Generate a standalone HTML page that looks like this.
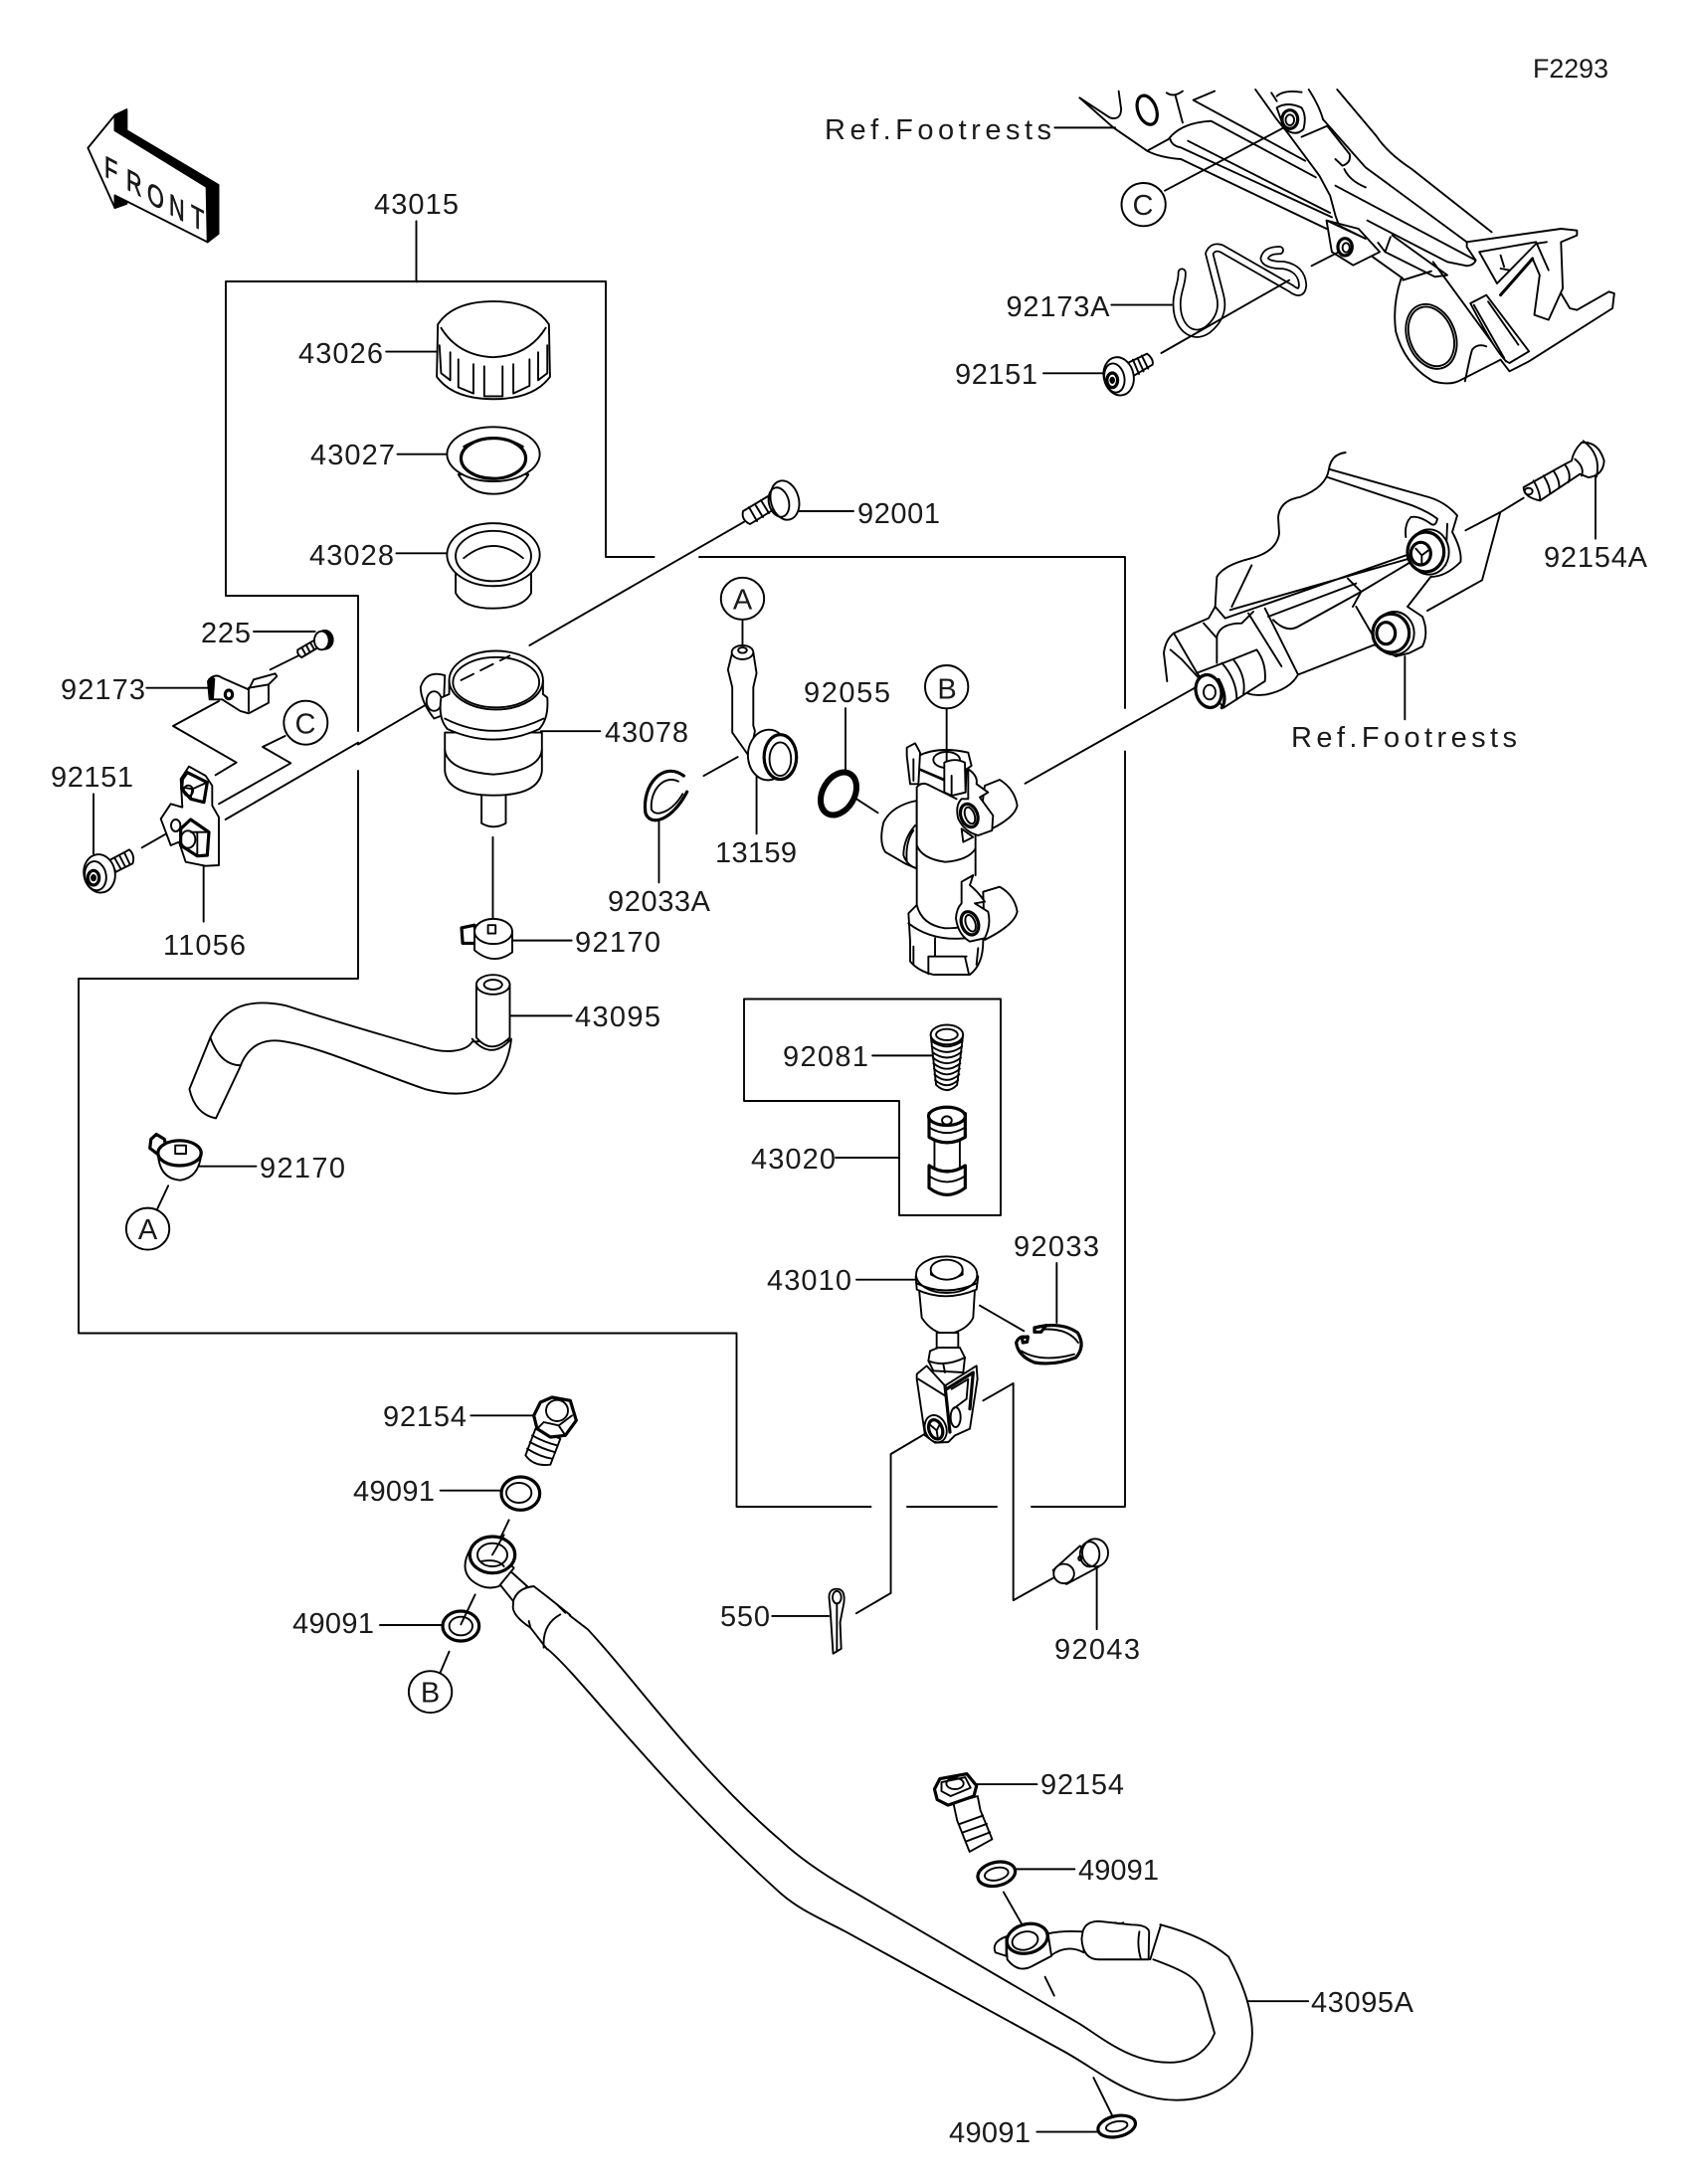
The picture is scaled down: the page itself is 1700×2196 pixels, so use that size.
<!DOCTYPE html>
<html><head><meta charset="utf-8"><title>Diagram</title>
<style>
html,body{margin:0;padding:0;background:#fff}
svg{display:block}
svg *{vector-effect:non-scaling-stroke}
.d{fill:none;stroke:#000;stroke-width:1.9;stroke-linejoin:round;stroke-linecap:round}
.d .w,.w{fill:#fff}
.d .k,.k{fill:#000}
.d .b{stroke-width:3.2}
.d .tk{stroke-width:6}
text{font-family:"Liberation Sans",sans-serif;font-size:29px;fill:#1a1a1a;stroke:none}
.wo{stroke:#000;stroke-width:9;fill:none}.wi{stroke:#fff;stroke-width:5.5;fill:none}
</style></head><body>
<svg width="1700" height="2196" viewBox="0 0 1700 2196" xmlns="http://www.w3.org/2000/svg">
<rect width="1700" height="2196" fill="#fff"/>
<g class="d">
<!-- frames -->
<polyline points="657.6,560 609,560 609,283 227,283 227,599 360,599 360,735"/>
<polyline points="360,775 360,984 79,984 79,1340.5 740.5,1340.5 740.5,1515 875.5,1515"/>
<line x1="912" y1="1515" x2="1002" y2="1515"/>
<polyline points="1037,1515 1131,1515 1131,755.5"/>
<polyline points="1131,712 1131,560 703,560"/>
<polyline points="748,1107 748,1004.5 1006,1004.5 1006,1222 904,1222 904,1107 748,1107"/>
<line x1="840" y1="1164" x2="904" y2="1164"/>
<line x1="802" y1="514" x2="858" y2="514"/>

<!-- Z1 -->
<g transform="scale(.5421,.7015)">
<path class="k" d="M213,165 L235,157 L235,187 L405,265 L405,335 L385,347 L383,268 L213,187Z"/>
<path class="k" d="M213,280 L235,288 L235,292 L213,298Z"/>
<path class="w" d="M163,212 L213,165 L213,187 L383,268 L385,347 L213,280 L213,298Z"/>
<line x1="772" y1="317" x2="772" y2="404"/>
<!-- 43026 -->
<line x1="716" y1="504" x2="810" y2="504"/>
<path class="w" d="M812,465 Q840,432 915,432 Q990,432 1018,465 L1020,540 Q990,572 915,572 Q840,572 810,540Z"/>
<path d="M818,470 Q850,510 915,512 Q980,510 1012,470"/>
<path d="M815,495 L818,535 L835,545 L835,505M850,515 L850,555 L878,564 L878,522M898,525 L898,568 L932,568 L932,525M952,522 L952,564 L982,553 L982,515M998,505 L998,545 L1015,535 L1015,495"/>
<!-- 43027 -->
<line x1="737" y1="651" x2="830" y2="651"/>
<path class="w" d="M850,680 Q870,708 915,708 Q960,708 980,680Z"/>
<ellipse class="w" cx="915" cy="651" rx="86" ry="39"/>
<ellipse cx="915" cy="657" rx="60" ry="29" class="b"/>
<path d="M860,640 Q915,615 970,640"/>
<!-- 43028 -->
<line x1="735" y1="793" x2="830" y2="793"/>
<path class="w" d="M845,815 L845,850 Q860,872 915,872 Q970,872 985,850 L985,815Z"/>
<ellipse class="w" cx="915" cy="795" rx="86" ry="45"/>
<ellipse cx="915" cy="797" rx="70" ry="36"/>
<path d="M860,800 Q915,765 970,800"/>
<!-- leaders reservoir -->
<line x1="982" y1="925" x2="1380" y2="748"/>
<line x1="664" y1="1067" x2="790" y2="1010"/>
<line x1="1003" y1="1048" x2="1113" y2="1048"/>
<line x1="914" y1="1200" x2="914" y2="1325"/>
<!-- reservoir -->
<path class="w" d="M825,968 Q790,960 780,985 Q780,1005 805,1030 L822,1025Z"/>
<ellipse cx="805" cy="1005" rx="14" ry="14"/>
<path class="w" d="M893,1130 L893,1180 Q915,1190 938,1180 L938,1130Z"/>
<path class="w" d="M825,1050 L825,1105 Q830,1140 915,1140 Q1000,1140 1005,1105 L1005,1050Z"/>
<path d="M825,1075 Q830,1105 915,1110 Q1000,1105 1005,1075"/>
<path class="w" d="M833,975 L833,995 L818,1000 Q812,1030 830,1045 Q915,1075 1000,1045 Q1018,1030 1015,1000 L1007,995 L1007,975Z"/>
<path d="M825,1030 Q915,1065 1008,1030" />
<ellipse class="w" cx="920" cy="975" rx="87" ry="42"/>
<ellipse cx="920" cy="978" rx="80" ry="36"/>
<line x1="855" y1="975" x2="945" y2="940" stroke-dasharray="14 8"/>
<!-- ring 92033A -->
<line x1="1222" y1="1175" x2="1222" y2="1265"/>
<path class="b" d="M1268,1112 C1230,1090 1190,1125 1197,1165 C1205,1185 1245,1178 1274,1135"/>
<path d="M1258,1120 C1232,1110 1205,1132 1208,1160 C1215,1172 1245,1165 1266,1138"/>
<!-- 13159 -->
<line x1="1377" y1="890" x2="1377" y2="925"/>
<line x1="1305" y1="1112" x2="1368" y2="1085"/>
<line x1="1403" y1="1110" x2="1403" y2="1195"/>
<path class="w" d="M1358,935 L1350,960 L1358,985 L1358,1050 L1390,1085 L1400,1048 L1397,1040 L1397,985 L1403,965 L1397,935Z"/>
<ellipse class="w" cx="1377" cy="935" rx="20" ry="10"/>
<ellipse cx="1377" cy="932" rx="8" ry="4"/>
<ellipse class="w" cx="1425" cy="1082" rx="38" ry="36" transform="rotate(-10 1425 1082)"/>
<ellipse class="w b" cx="1447" cy="1085" rx="30" ry="32"/>
<ellipse cx="1447" cy="1088" rx="20" ry="24"/>
<ellipse class="w" cx="1377" cy="858" rx="40" ry="30"/>
<!-- 92170 -->
<line x1="950" y1="1348" x2="1060" y2="1348"/>
<path class="w b" d="M856,1330 L880,1326 L885,1352 L858,1352Z"/>
<path class="w" d="M880,1330 L880,1362 Q915,1385 950,1365 L950,1335Z"/>
<ellipse class="w" cx="915" cy="1335" rx="35" ry="18"/>
<rect x="905" y="1326" width="14" height="12"/>
<line x1="946" y1="1456" x2="1060" y2="1456"/>
</g>

<!-- hose, shown-scale -->
<g transform="scale(1.4003)">
<path class="w" d="M339,748 C335,755 320,757 305,752 C270,742 230,730 205,722 C175,716 160,725 151,745 L136,782 Q140,800 155,803 L172,767 C178,750 190,745 205,748 C230,752 270,770 305,782 C335,790 362,785 367,747Z"/>
<path d="M151,745 Q158,765 173,765"/>
<path class="w" d="M342,707 L342,745 Q353,758 366,745 L366,707Z"/>
<path d="M339,746 Q353,762 367,746"/>
<ellipse class="w" cx="354" cy="707" rx="12" ry="7"/>
<ellipse cx="354" cy="707" rx="6.5" ry="3.5"/>
<!-- long hose -->
<path d="M409,1160 L422,1170 C455,1205 500,1270 561,1322 C575,1335 590,1345 607,1355 L773,1452 C790,1462 810,1481 840,1481 C858,1481 868,1470 872,1460 L864,1432 C860,1420 850,1415 828,1407"/>
<path d="M393,1184 C420,1207 470,1278 561,1360 C575,1372 590,1378 607,1387 L762,1472 C790,1487 810,1508 845,1508 C875,1508 899,1490 899,1460 C899,1440 890,1420 882,1405 C870,1395 855,1388 833,1382"/>
</g>

<!-- Z2 leftovers -->
<g transform="translate(850,0) scale(.5421,.7015)">
<line x1="388" y1="183" x2="500" y2="183"/>
<line x1="493" y1="437" x2="605" y2="437"/>
<line x1="367" y1="535" x2="478" y2="535"/>
<line x1="333" y1="1123" x2="650" y2="985"/>
<line x1="0" y1="1015" x2="0" y2="1105"/>
<line x1="20" y1="1145" x2="60" y2="1165"/>
<!-- 92081 -->
<line x1="50" y1="1513" x2="160" y2="1513"/>
<path class="w" d="M158,1483 L168,1555 Q188,1570 207,1555 L218,1483Z"/>
<ellipse class="w" cx="188" cy="1483" rx="30" ry="14"/>
<path d="M159,1492 Q188,1508 217,1492 M160,1500 Q188,1516 216,1500 M161,1508 Q188,1524 215,1508 M162,1516 Q188,1532 214,1516 M163,1524 Q188,1540 213,1524 M164,1532 Q188,1548 212,1532 M165,1540 Q188,1556 211,1540 M166,1548 Q188,1563 209,1548"/>
<ellipse cx="188" cy="1483" rx="20" ry="8"/>
</g>
<ellipse class="tk" cx="843" cy="798" rx="16" ry="23" transform="rotate(30 843 798)"/>

<!-- Upper footrest, crop 1 -->
<g transform="translate(1080,90) scale(.35714,.33333)">
<path d="M15,25 L100,85 Q130,95 132,60 L125,5 M15,25 L110,115 L205,185 Q240,205 300,210 L710,420"/>
<ellipse class="b" cx="205" cy="62" rx="26" ry="45" transform="rotate(-18 205 62)"/>
<path d="M205,185 L265,150 Q300,100 385,95 L680,265"/>
<path d="M270,150 Q275,170 300,175 L725,385 M320,155 L720,372"/>
<path d="M305,100 L285,20 M260,10 Q280,25 305,5 M335,32 L395,5 M335,32 L650,215"/>
<line x1="255" y1="305" x2="590" y2="115"/>
<ellipse class="w" cx="195" cy="347" rx="62" ry="65"/>
<path d="M510,0 L570,90 L600,130 L690,260 L720,320 L735,380 L745,410"/>
<path d="M640,143 L712,110 M700,90 Q690,50 660,0 M555,10 L570,35 M570,20 Q590,0 640,8"/>
<path d="M712,110 L775,195 Q780,220 755,230 L735,210"/>
<path d="M735,290 L1130,515 Q1125,530 1105,532 L1050,520 L825,395"/>
<path d="M740,0 L850,140 Q880,190 950,240 L1175,430"/>
<path d="M760,240 Q775,275 820,295 M700,90 L820,235 L1105,460"/>
<path class="w" d="M570,55 Q600,35 640,55 Q655,80 645,120 Q620,145 590,115Z"/>
<ellipse class="b" cx="607" cy="90" rx="22" ry="28"/>
<ellipse cx="607" cy="92" rx="12" ry="16"/>
<path class="w" d="M710,395 L725,490 L785,530 L860,490 L800,420Z"/>
<path d="M710,395 L820,450 M745,410 L820,450"/>
<ellipse class="b" cx="762" cy="475" rx="20" ry="26"/>
<ellipse cx="765" cy="477" rx="10" ry="14"/>
<line x1="668" y1="532" x2="745" y2="490"/>
<path d="M855,462 L875,490 L1015,565 L1050,560 L895,440 M840,505 L925,570 M875,490 L890,445"/>
<path d="M925,575 L1005,548"/>
<path d="M920,570 Q895,650 905,730 Q930,830 1010,880 Q1060,895 1090,875 L1200,815 L1225,850 L1280,820 L1515,660 L1520,615 L1505,610 L1415,665 L1395,660 L1370,615"/>
<ellipse class="w" cx="1005" cy="745" rx="68" ry="100" transform="rotate(-18 1005 745)"/>
<ellipse cx="1005" cy="745" rx="61" ry="92" transform="rotate(-18 1005 745)"/>
<path d="M1010,520 L1215,820"/>
<path d="M1100,880 Q1115,800 1120,785 Q1135,765 1160,775"/>
<path class="w" d="M1115,645 L1160,620 L1280,790 L1225,825 Q1200,820 1115,645Z"/>
<path d="M1165,640 L1250,770 M1125,650 L1210,810"/>
<path d="M1105,460 L1370,420 L1415,425 L1415,440 L1370,460 L1375,600 L1335,695 L1295,680 L1310,560 L1290,510"/>
<path d="M1105,460 L1105,475 L1130,515"/>
<path d="M1140,490 L1300,460 L1335,545 M1140,490 L1190,585 L1300,465 L1330,460"/>
<path style="stroke-width:3" d="M1200,620 L1290,510"/>
<path d="M1200,500 L1210,535 M1200,540 L1225,545"/>
<!-- wire clip -->
<path class="wo" d="M303,552 C305,590 280,620 292,680 C305,730 340,750 375,725 C410,695 420,660 410,620 L380,495 Q390,470 415,480 L610,600 Q640,625 643,590 Q640,540 590,530 Q540,530 535,510 Q540,485 578,485"/>
<path class="wi" d="M303,552 C305,590 280,620 292,680 C305,730 340,750 375,725 C410,695 420,660 410,620 L380,495 Q390,470 415,480 L610,600 Q640,625 643,590 Q640,540 590,530 Q540,530 535,510 Q540,485 578,485"/>
<line x1="245" y1="795" x2="605" y2="575"/>
<!-- bolt -->
<path class="w" d="M150,825 L205,797 Q225,815 220,830 L165,865Z"/>
<path d="M165,815 L182,858 M178,810 L195,850 M190,803 L208,842"/>
<ellipse class="w" cx="125" cy="865" rx="42" ry="58" transform="rotate(-10 125 865)"/>
<ellipse cx="113" cy="870" rx="28" ry="44" transform="rotate(-10 113 870)"/>
<ellipse class="b" cx="107" cy="877" rx="15" ry="22"/>
<ellipse class="k" cx="107" cy="877" rx="5" ry="8"/>
</g>

<!-- Master cylinder, crop 2 -->
<g transform="translate(860,660) scale(.33333)">
<path class="w" d="M185,435 Q110,450 85,500 Q70,560 90,590 L150,625 L185,640Z"/>
<path d="M180,510 Q145,550 145,600 Q155,630 185,640 M175,525 Q150,560 155,620"/>
<rect class="w" x="185" y="395" width="177" height="420" stroke="none"/>
<path d="M185,395 L185,770 M362,400 L362,660"/>
<path d="M185,570 Q200,610 270,620 Q340,615 362,580"/>
<path class="w" d="M185,750 L160,775 L165,860 L165,920 Q190,950 235,960 L345,960 Q385,930 385,860 L385,790 L362,760 L362,800 Q340,820 270,820 Q200,810 185,750Z"/>
<path d="M160,805 Q230,860 335,850 M240,850 L240,905 M220,905 L220,958 M330,905 L342,958 M220,905 L335,905 M175,875 L175,930 M370,880 L365,930"/>
<!-- upper port -->
<path class="w" d="M390,390 L435,372 Q480,400 488,450 Q480,490 390,530 L370,540Z"/>
<path class="w" d="M340,340 Q370,360 365,385 L400,410 L375,425 L415,480 L412,525 L370,540 Q330,530 310,490 Q300,450 320,430 L340,430Z"/>
<ellipse class="b" cx="343" cy="480" rx="25" ry="36" transform="rotate(-20 343 480)"/>
<ellipse cx="345" cy="480" rx="14" ry="26" transform="rotate(-20 345 480)"/>
<path class="w" d="M320,520 L325,560 L355,545Z"/>
<!-- lower port -->
<path class="w" d="M385,710 L435,695 Q480,720 488,770 Q480,810 390,855Z"/>
<path class="w" d="M320,680 L355,660 L345,690 Q370,710 390,740 L360,745 L400,770 Q410,810 390,850 L345,860 Q310,840 303,790 Q305,760 320,745Z"/>
<ellipse class="b" cx="345" cy="805" rx="25" ry="36" transform="rotate(-20 345 805)"/>
<ellipse cx="347" cy="805" rx="14" ry="26" transform="rotate(-20 347 805)"/>
<!-- top -->
<path class="w" d="M190,300 Q250,270 340,290 L350,330 L335,340 L332,410 L290,420 L270,375 L190,340Z"/>
<ellipse cx="275" cy="312" rx="40" ry="24"/>
<path d="M185,395 Q200,375 225,390 L305,430"/>
<path class="w" d="M155,275 L180,262 L195,290 L190,385 L165,385 L155,300Z"/>
<path d="M175,310 L175,375 M195,340 L270,372"/>
<path class="w" d="M268,320 Q300,305 330,320 L332,410 L290,420 L268,410Z"/>
<line x1="290" y1="360" x2="290" y2="415"/>
<line x1="275" y1="158" x2="275" y2="315"/>
<ellipse class="w" cx="275" cy="92" rx="65" ry="65"/>
</g>

<!-- Lower footrest, crop 3 -->
<g transform="translate(1160,440) scale(.33333)">
<path d="M578,45 Q535,50 528,95 Q520,150 440,180 Q380,190 375,240 L378,290 Q370,345 290,365 Q210,385 190,420 L185,510 L165,545 L60,590 Q35,610 30,650 L40,735"/>
<path d="M528,95 L830,180 Q880,195 915,235 L900,285 Q930,340 925,375 Q880,420 835,420 L765,510 L810,540 Q830,590 810,630 L770,650 L730,660 L665,625"/>
<path d="M525,120 L780,205 Q830,225 855,245 Q850,270 835,260 Q800,235 775,240 Q755,260 760,300 M885,260 L880,385"/>
<path d="M295,385 L235,510 M185,510 L215,545 L775,350 M230,520 L770,365"/>
<path d="M345,540 L610,440 M360,550 Q400,590 435,570 L625,465 L775,375 M585,425 L625,465 L600,510 M610,510 L665,605"/>
<path d="M150,560 L190,605 M190,680 L190,600 Q200,560 265,560 L300,525"/>
<path d="M60,590 L130,710 M50,640 L85,670 L135,725"/>
<path d="M285,530 L385,690 M335,515 L435,715"/>
<path d="M435,715 L665,625 M435,715 Q410,760 340,775 Q300,780 280,770"/>
<path class="w" d="M130,710 L235,670 L310,640 Q340,680 335,735 L210,815 Z"/>
<path d="M205,680 Q250,730 250,790 M240,670 Q280,720 270,775"/>
<ellipse class="w b" cx="165" cy="765" rx="38" ry="50" transform="rotate(-15 165 765)"/>
<ellipse cx="168" cy="768" rx="18" ry="22"/>
<path class="b" d="M205,815 Q225,785 195,730"/>
<ellipse class="w" cx="830" cy="345" rx="60" ry="68"/>
<ellipse class="w b" cx="820" cy="345" rx="55" ry="60"/>
<ellipse class="b" cx="805" cy="350" rx="30" ry="34"/>
<path d="M790,335 L808,355 L828,340 M808,355 L808,380"/>
<ellipse class="w" cx="725" cy="590" rx="60" ry="65"/>
<ellipse class="w b" cx="715" cy="590" rx="55" ry="58"/>
<ellipse class="b" cx="700" cy="590" rx="28" ry="33"/>
<polyline points="940,280 1045,225 990,430 825,522"/>
<line x1="1045" y1="225" x2="1115" y2="182"/>
<line x1="757" y1="660" x2="757" y2="850"/>
<!-- 92154A -->
<path class="w" d="M1115,150 L1240,80 L1260,70 Q1265,40 1290,15 Q1340,10 1358,70 Q1355,115 1310,120 L1285,110 L1165,190 Q1115,180 1115,150Z"/>
<path d="M1145,130 Q1165,165 1165,190 M1175,115 Q1195,145 1195,170 M1205,100 Q1225,130 1222,152 M1240,82 Q1260,110 1250,135 M1270,65 Q1300,90 1290,115 M1295,10 Q1350,50 1335,118"/>
<ellipse cx="1130" cy="162" rx="12" ry="10"/>
<line x1="1332" y1="115" x2="1332" y2="305"/>
</g>

<!-- Bracket/clip, crop 4 -->
<g transform="translate(60,620) scale(.33333)">
<polyline points="470,478 533,440 342,330 480,255"/>
<polyline points="680,360 612,393 697,442 480,565"/>
<line x1="500" y1="612" x2="900" y2="380"/>
<ellipse class="w" cx="742" cy="320" rx="66" ry="66"/>
<!-- 225 -->
<line x1="585" y1="45" x2="770" y2="45"/>
<line x1="635" y1="160" x2="720" y2="118"/>
<path class="w" d="M718,100 L770,70 L785,90 L730,123 Q715,115 718,100Z"/>
<path d="M730,93 L742,115 M743,85 L755,108 M756,78 L768,100"/>
<ellipse class="k" cx="800" cy="70" rx="24" ry="28"/>
<ellipse class="w" cx="790" cy="72" rx="22" ry="28"/>
<!-- 92173 -->
<line x1="262" y1="215" x2="448" y2="215"/>
<path class="w" d="M450,190 Q470,170 490,185 L570,220 L585,190 L650,172 L655,180 L630,205 L630,260 L570,292 L545,285 L490,250 L455,250Z"/>
<path d="M570,220 L570,285 M570,215 L630,205"/>
<path class="k" d="M447,195 L458,183 L466,188 L462,248 L452,250Z"/>
<ellipse class="b" cx="510" cy="235" rx="11" ry="13"/>
<!-- 11056 -->
<line x1="434" y1="755" x2="434" y2="920"/>
<line x1="102" y1="535" x2="102" y2="715"/>
<line x1="248" y1="697" x2="330" y2="650"/>
<path class="w" d="M365,490 L390,452 L440,480 L460,510 L460,570 L480,605 L480,750 L440,752 L380,740 L360,680 L335,690 L305,610 L335,565 L370,575Z"/>
<path class="w b" d="M370,490 L385,470 L445,500 L435,560 L395,550 L368,520Z"/>
<path d="M370,515 L400,520 L445,500 M400,520 L395,550"/>
<ellipse cx="388" cy="525" rx="14" ry="16"/>
<ellipse class="w" cx="350" cy="630" rx="14" ry="18"/>
<path class="w b" d="M365,640 L395,612 L450,650 L445,720 L415,722 L365,690Z"/>
<path d="M395,650 L450,650 M415,650 L415,722"/>
<ellipse cx="387" cy="672" rx="22" ry="26"/>
<!-- 92151 -->
<path class="w" d="M150,735 L210,703 Q228,720 220,745 L170,770Z"/>
<path d="M165,727 L185,762 M180,720 L198,755 M195,712 L212,748"/>
<ellipse class="w" cx="120" cy="775" rx="47" ry="58" transform="rotate(-10 120 775)"/>
<ellipse cx="108" cy="782" rx="32" ry="44" transform="rotate(-10 108 782)"/>
<ellipse class="b" cx="102" cy="788" rx="17" ry="22"/>
<ellipse class="k" cx="102" cy="788" rx="6" ry="8"/>
</g>

<!-- Clevis, crop 5 -->
<g transform="translate(900,1240) scale(.33333)">
<line x1="-117" y1="140" x2="60" y2="140"/>
<line x1="255" y1="218" x2="388" y2="295"/>
<line x1="487" y1="90" x2="487" y2="270"/>
<polyline points="265,505 356,453 356,1107"/>
<line x1="-13" y1="666" x2="90" y2="605"/>
<path class="w" d="M72,170 L80,255 Q110,300 155,305 Q215,295 235,255 L240,170Z"/>
<path class="w" d="M125,300 L125,360 L190,360 L190,300Z"/>
<path class="w" d="M62,130 L65,170 Q150,210 245,170 L250,130Z"/>
<ellipse class="w" cx="155" cy="125" rx="92" ry="55"/>
<path d="M63,150 Q150,195 248,150"/>
<path class="w" d="M108,110 L108,125 Q155,150 203,125 L203,110Z"/>
<ellipse class="w" cx="155" cy="110" rx="48" ry="30"/>
<path class="w" d="M105,355 L130,345 L195,345 L210,375 L205,420 L115,415 L100,385Z"/>
<path d="M100,385 Q150,405 210,375 M145,395 L150,420"/>
<path class="w" d="M65,425 L95,400 L150,460 L245,400 L248,440 L225,590 L180,610 L160,630 L120,632 L90,610 L65,440Z"/>
<path class="b" d="M150,460 L165,600 M155,470 L235,420 L225,530"/>
<path d="M170,470 L220,440 L215,500 L175,530 M70,440 L150,490"/>
<ellipse cx="182" cy="555" rx="15" ry="30"/>
<ellipse class="w" cx="122" cy="590" rx="32" ry="42" transform="rotate(-20 122 590)"/>
<ellipse class="b" cx="122" cy="592" rx="20" ry="30" transform="rotate(-20 122 592)"/>
<path d="M105,578 L125,595 L135,575 M125,595 L128,615"/>
<!-- ring -->
<path class="b" d="M420,285 Q500,265 550,300 Q575,340 545,375 Q480,400 420,390 Q370,370 365,330 Q375,305 400,315"/>
<path d="M445,290 Q520,285 552,330 M380,355 Q440,392 540,365"/>
<path class="w b" d="M420,285 L455,278 L440,298 L420,298Z"/>
<path class="w b" d="M382,315 L400,312 L398,328 L385,330Z"/>
</g>

<!-- Banjo, crop 6 -->
<g transform="translate(440,1400) scale(.33333)">
<line x1="100" y1="70" x2="288" y2="70"/>
<line x1="8" y1="296" x2="190" y2="296"/>
<line x1="-174" y1="702" x2="15" y2="702"/>
<path class="w" d="M295,110 L265,190 Q290,225 340,218 L370,140Z"/>
<path d="M285,130 Q320,150 360,160 M278,150 Q315,170 352,180 M270,170 Q310,195 345,200"/>
<path class="w b" d="M290,70 L310,30 L345,15 L400,25 L418,85 L385,130 L340,135 L300,110Z"/>
<ellipse cx="360" cy="55" rx="33" ry="32"/>
<path d="M320,90 L365,100 L385,130 M320,90 L300,110 M365,100 L405,70"/>
<ellipse class="w b" cx="250" cy="305" rx="58" ry="50"/>
<ellipse cx="245" cy="303" rx="38" ry="30"/>
<line x1="215" y1="385" x2="165" y2="490"/>
<path class="w" d="M220,540 L270,585 L228,630 L180,570Z"/>
<path class="w" d="M100,470 Q65,530 100,565 Q140,600 185,585 L230,530 L170,470Z"/>
<ellipse class="w b" cx="165" cy="490" rx="68" ry="55"/>
<ellipse cx="165" cy="490" rx="45" ry="35"/>
<path d="M130,510 Q180,500 200,525"/>
<line x1="200" y1="430" x2="165" y2="490"/>
<path class="w" stroke="none" style="stroke:none" d="M228,630 Q240,590 290,585 L335,620 L400,665 L330,775 L280,710 Q220,670 228,640Z"/>
<path d="M330,775 L280,710 Q220,670 228,640 L228,630 Q240,590 290,585 L335,620 L400,672"/>
<path d="M320,770 Q315,700 370,670 M360,640 L385,665 M275,690 L280,710"/>
<ellipse class="w b" cx="70" cy="705" rx="55" ry="45"/>
<ellipse cx="70" cy="705" rx="35" ry="28"/>
<line x1="113" y1="610" x2="70" y2="700"/>
</g>

<!-- Z3 remaining -->
<g transform="translate(0,1100) scale(.5421,.699)">
<line x1="365" y1="104" x2="475" y2="104"/>
<line x1="312" y1="132" x2="292" y2="165"/>
<path class="w b" d="M280,65 L290,58 L305,65 L310,85 L295,88 L278,78Z"/>
<path class="w" d="M293,85 Q295,122 335,124 Q368,120 373,88Z"/>
<ellipse class="w b" cx="333" cy="85" rx="40" ry="18"/>
<rect x="325" y="74" width="20" height="12"/>
<ellipse class="w" cx="274" cy="194" rx="40" ry="30"/>
<line x1="833" y1="802" x2="815" y2="835"/>
<ellipse class="w" cx="798" cy="860" rx="40" ry="30"/>
<!-- 550 -->
<line x1="1432" y1="751" x2="1537" y2="751"/>
<path class="w" d="M1538,728 Q1535,712 1552,712 Q1568,712 1565,732 L1558,760 L1560,798 L1545,805 L1540,745Z"/>
<ellipse cx="1552" cy="724" rx="8" ry="9"/>
<line x1="1552" y1="735" x2="1552" y2="802"/>
</g>

<!-- Z4 remaining -->
<g transform="translate(850,1100) scale(.5421,.699)">
<line x1="20" y1="747" x2="84" y2="718"/>
<line x1="84" y1="718" x2="84" y2="518"/>
<line x1="312" y1="728" x2="388" y2="695"/>
<!-- piston -->
<path class="w" d="M165,60 L165,110 L212,110 L212,60Z"/>
<path class="w b" d="M155,28 L155,62 Q188,78 222,62 L222,28Z"/>
<ellipse class="w b" cx="188" cy="32" rx="34" ry="13"/>
<ellipse cx="188" cy="38" rx="9" ry="6"/>
<path d="M155,48 Q188,64 222,48"/>
<path class="w b" d="M155,103 L155,135 Q188,155 222,135 L222,103 Q188,120 155,103Z"/>
<path d="M155,118 Q188,135 222,118"/>
<!-- pin -->
<line x1="466" y1="680" x2="466" y2="770"/>
<path class="w" d="M385,685 L435,650 L470,680 L410,705 Q390,700 385,685Z"/>
<ellipse class="w" cx="463" cy="660" rx="24" ry="20"/>
<ellipse cx="453" cy="662" rx="18" ry="18"/>
<ellipse class="w" cx="405" cy="690" rx="19" ry="14"/>
<ellipse cx="435" cy="668" rx="3" ry="3"/>
<!-- right bolt -->
<line x1="240" y1="993" x2="355" y2="993"/>
<path class="w" d="M200,1020 L245,1010 L250,1030 L272,1072 L230,1090 L207,1045Z"/>
<path d="M212,1050 L255,1038 M218,1062 L262,1050 M224,1075 L268,1062"/>
<path class="w b" d="M165,1000 L175,985 L225,978 L243,995 L238,1010 L190,1023 L170,1015Z"/>
<path class="w" d="M178,990 L222,983 L232,998 L195,1010 L178,1003Z"/>
<ellipse cx="203" cy="992" rx="16" ry="8"/>
<!-- washers -->
<line x1="315" y1="1115" x2="425" y2="1115"/>
<line x1="293" y1="1148" x2="335" y2="1205"/>
<ellipse class="w b" cx="280" cy="1122" rx="35" ry="17" transform="rotate(-8 280 1122)"/>
<ellipse cx="280" cy="1122" rx="22" ry="9" transform="rotate(-8 280 1122)"/>
<!-- banjo right -->
<path class="w" d="M375,1208 Q400,1203 442,1205 L442,1235 Q410,1222 380,1240Z"/>
<path class="w" d="M298,1212 Q270,1220 278,1235 L298,1240Z"/>
<path class="w" d="M298,1215 L300,1245 Q320,1265 345,1255 L382,1240 L375,1205Z"/>
<ellipse class="w b" cx="337" cy="1215" rx="38" ry="21" transform="rotate(-8 337 1215)"/>
<ellipse cx="333" cy="1218" rx="24" ry="13" transform="rotate(-8 333 1218)"/>
<path class="w" d="M440,1205 Q445,1190 470,1190 L530,1195 Q560,1195 563,1205 L562,1245 L470,1245 Q440,1245 438,1215Z"/>
<path d="M500,1192 Q510,1195 515,1192 M545,1205 Q540,1225 548,1245 M565,1245 L585,1195"/>
<line x1="370" y1="1270" x2="387" y2="1297"/>
<line x1="745" y1="1305" x2="858" y2="1305"/>
<line x1="460" y1="1415" x2="495" y2="1470"/>
<line x1="355" y1="1493" x2="468" y2="1493"/>
<ellipse class="w b" cx="503" cy="1485" rx="35" ry="15" transform="rotate(-8 503 1485)"/>
<ellipse cx="503" cy="1485" rx="20" ry="7" transform="rotate(-8 503 1485)"/>
</g>

<!-- 92001 bolt -->
<path class="w" d="M747,514 L772,499 L780,511 L754,527 Q745,523 747,514Z"/>
<path d="M753,510 L761,524 M759,507 L767,520 M765,503 L773,516"/>
<ellipse class="w" cx="789" cy="503" rx="14" ry="20" transform="rotate(-15 789 503)"/>
<ellipse cx="783" cy="505" rx="10" ry="15" transform="rotate(-15 783 505)"/>
</g>

<!-- FRONT letters -->
<g>
<text style="font-size:30px;stroke:#111;stroke-width:.7" transform="translate(105,177) skewY(28) scale(.72,1)">F</text>
<text style="font-size:30px;stroke:#111;stroke-width:.7" transform="translate(127,190) skewY(28) scale(.72,1)">R</text>
<text style="font-size:30px;stroke:#111;stroke-width:.7" transform="translate(148,203) skewY(28) scale(.72,1)">O</text>
<text style="font-size:30px;stroke:#111;stroke-width:.7" transform="translate(170,215) skewY(28) scale(.72,1)">N</text>
<text style="font-size:30px;stroke:#111;stroke-width:.7" transform="translate(192,226) skewY(28) scale(.72,1)">T</text>
</g>

<!-- circled letters -->
<g text-anchor="middle">
<text x="307" y="737.5">C</text>
<text x="746.5" y="612.5">A</text>
<text x="952" y="702.5">B</text>
<text x="1149" y="216">C</text>
<text x="148.5" y="1246">A</text>
<text x="432.6" y="1711.5">B</text>
</g>

<!-- labels -->
<text x="1541" y="78" textLength="76" lengthAdjust="spacingAndGlyphs" style="font-size:27px">F2293</text>
<text x="829" y="140" textLength="228">Ref.Footrests</text>
<text x="376" y="215" textLength="85">43015</text>
<text x="300" y="365" textLength="85">43026</text>
<text x="312" y="467" textLength="85">43027</text>
<text x="311" y="568" textLength="85">43028</text>
<text x="862" y="526" textLength="83">92001</text>
<text x="202" y="646" textLength="50">225</text>
<text x="61" y="703" textLength="85">92173</text>
<text x="51" y="791" textLength="83">92151</text>
<text x="164" y="960" textLength="83">11056</text>
<text x="608" y="746" textLength="84">43078</text>
<text x="719" y="867" textLength="82">13159</text>
<text x="611" y="916" textLength="103">92033A</text>
<text x="578" y="957" textLength="86">92170</text>
<text x="578" y="1032" textLength="86">43095</text>
<text x="808" y="706" textLength="87">92055</text>
<text x="787" y="1072" textLength="86">92081</text>
<text x="1298" y="751" textLength="227">Ref.Footrests</text>
<text x="1011.5" y="318" textLength="104">92173A</text>
<text x="960" y="386" textLength="83">92151</text>
<text x="1552" y="570" textLength="104">92154A</text>
<text x="755" y="1175" textLength="85">43020</text>
<text x="771" y="1297" textLength="85">43010</text>
<text x="1019" y="1263" textLength="86">92033</text>
<text x="1060" y="1668" textLength="86">92043</text>
<text x="724" y="1635" textLength="50">550</text>
<text x="261" y="1184" textLength="86">92170</text>
<text x="385" y="1434" textLength="84">92154</text>
<text x="355" y="1509" textLength="82">49091</text>
<text x="294" y="1642" textLength="82">49091</text>
<text x="1046" y="1804" textLength="84">92154</text>
<text x="1084" y="1890" textLength="81">49091</text>
<text x="1318" y="2023" textLength="103">43095A</text>
<text x="954" y="2154" textLength="82">49091</text>
</svg>
</body></html>
